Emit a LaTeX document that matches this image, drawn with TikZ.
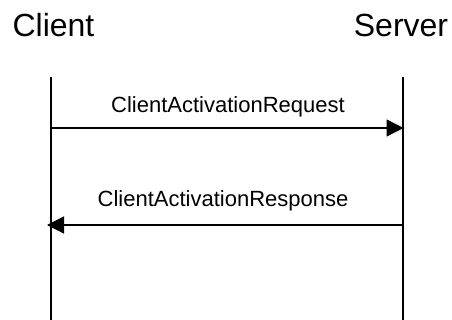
\documentclass[tikz,border=0pt]{standalone}
\usepackage{fontspec}
\setmainfont{Liberation Sans}
\usetikzlibrary{arrows.meta}
\begin{document}
\begin{tikzpicture}[x=1pt,y=-1pt,
  title/.style={font=\fontsize{32}{32}\selectfont, inner sep=0pt, anchor=base},
  msglabel/.style={font=\fontsize{22}{22}\selectfont, inner sep=0pt, anchor=base},
  lifeline/.style={line width=1.3pt},
  msg/.style={line width=1.3pt, -{Triangle[length=17pt,width=17pt]}}]
\useasboundingbox (0,0) rectangle (452,320);
\node[title] (client) at (53.5,37) {Client};
\node[title] (server) at (401,37) {Server};
\coordinate (ctop) at (51,77);
\coordinate (cbot) at (51,320);
\coordinate (stop) at (403,77);
\coordinate (sbot) at (403,320);
\draw[lifeline] (ctop) -- (cbot);
\draw[lifeline] (stop) -- (sbot);
\coordinate (r1a) at (51,128);
\coordinate (r1b) at (403.5,128);
\coordinate (r2a) at (403,225);
\coordinate (r2b) at (47,225);
\draw[msg] (r1a) -- (r1b);
\draw[msg] (r2a) -- (r2b);
\node[msglabel] (l1) at (228,113) {ClientActivationRequest};
\node[msglabel] (l2) at (223,207) {ClientActivationResponse};
\end{tikzpicture}
\end{document}
